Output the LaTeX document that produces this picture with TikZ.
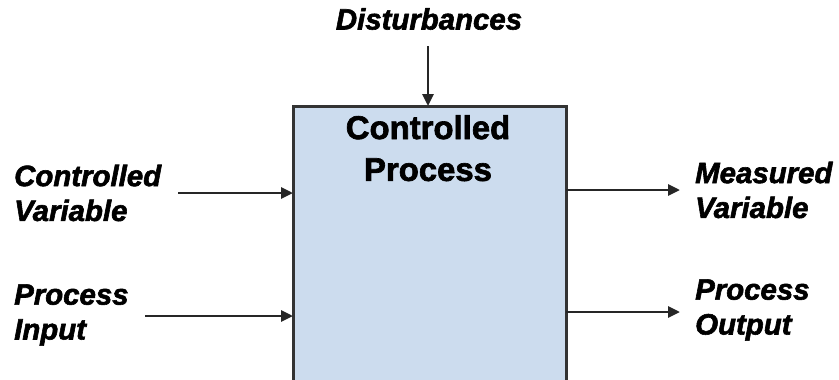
\documentclass[tikz,border=0pt]{standalone}
\usepackage{fontspec}
\setmainfont{Liberation Sans}
\newfontfamily\heavyfont{Liberation Sans Bold}[FakeBold=2]
\newfontfamily\heavyitfont{Liberation Sans Bold Italic}[FakeBold=2]
\usetikzlibrary{arrows.meta}
\definecolor{procfill}{RGB}{204,220,238}
\begin{document}
\begin{tikzpicture}[x=1bp,y=-1bp,
  lbl/.style={font=\heavyitfont\fontsize{29.5}{35}\selectfont, align=left, inner sep=0pt},
  title/.style={font=\heavyfont\fontsize{33}{42}\selectfont, align=center, inner sep=0pt},
  flow/.style={line width=2.8bp, draw=black!85, -{Triangle[length=12bp,width=11bp]}},
  procbox/.style={draw=black!80, line width=3bp, fill=procfill}]
  \useasboundingbox (0,0) rectangle (839,379);
  % process block
  \path[procbox] (293,106) rectangle (566,382);
  \node[title, anchor=north] (ttl) at (428,115) {Controlled\\Process};
  % inputs and outputs
  \node[lbl, anchor=center] (dist) at (429,19) {Disturbances};
  \node[lbl, anchor=west] (cv) at (14,193) {Controlled\\Variable};
  \node[lbl, anchor=west] (pi) at (14,315) {Process\\Input};
  \node[lbl, anchor=west] (mv) at (695,190) {Measured\\Variable};
  \node[lbl, anchor=west] (po) at (695,310) {Process\\Output};
  \coordinate (dtop) at (428,46);
  \coordinate (din) at (428,106);
  \coordinate (cvs) at (178,193);
  \coordinate (cvin) at (293,193);
  \coordinate (pis) at (145,316);
  \coordinate (piin) at (293,316);
  \coordinate (mvout) at (566,190);
  \coordinate (mve) at (680,190);
  \coordinate (poout) at (566,312);
  \coordinate (poe) at (680,312);
  \draw[flow] (dtop) -- (din);
  \draw[flow] (cvs) -- (cvin);
  \draw[flow] (pis) -- (piin);
  \draw[flow] (mvout) -- (mve);
  \draw[flow] (poout) -- (poe);
\end{tikzpicture}
\end{document}
